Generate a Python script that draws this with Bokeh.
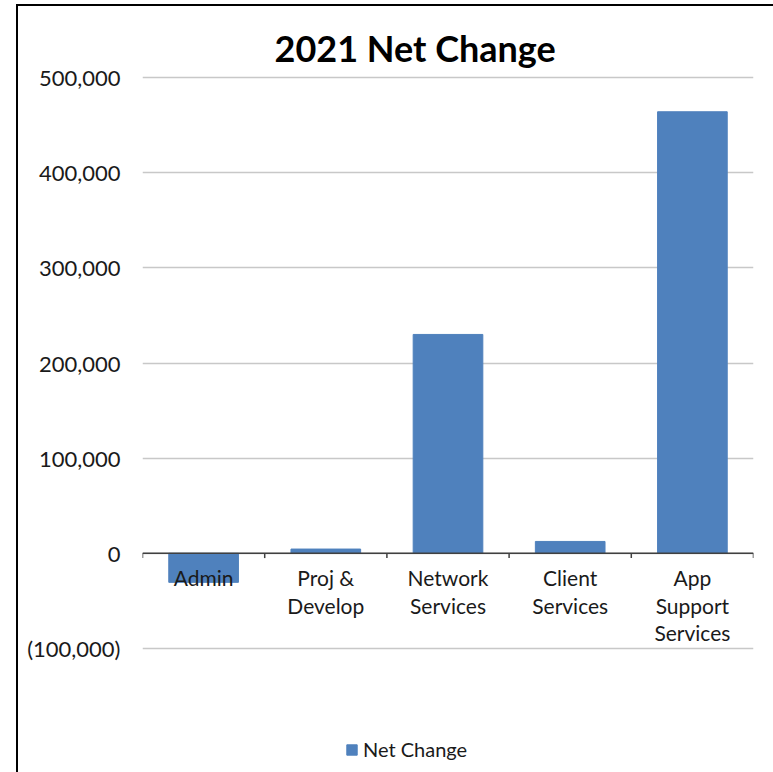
from bokeh.plotting import figure
from bokeh.models import Range1d, NumeralTickFormatter, Span, Legend, LegendItem, ColumnDataSource, FixedTicker
from bokeh.layouts import column
from bokeh.embed import file_html
from bokeh.resources import INLINE
from bokeh.core.properties import value

categories = ["Admin", "Proj &\nDevelop", "Network\nServices", "Client\nServices", "App\nSupport\nServices"]
net_change = [-30500, 4500, 230000, 12500, 464000]
y_ticks = [-100000, 0, 100000, 200000, 300000, 400000, 500000]

FONT = "Lato"
BLUE = "#4F81BD"

# layout: frame spans from just above the 500,000 line down to the figure bottom (legend lives inside)
Y_MAX, Y_MIN_TICK = 500000, -100000
PX_TOP_TO_MIN = 571.0   # pixels between 500,000 and -100,000
PX_BELOW = 124.0        # pixels below -100,000 to the figure bottom
PX_ABOVE = 3.0          # pixels above 500,000 inside the frame
px_per_unit = PX_TOP_TO_MIN / (Y_MAX - Y_MIN_TICK)
y_start = Y_MIN_TICK - PX_BELOW / px_per_unit
y_end = Y_MAX + PX_ABOVE / px_per_unit

xc = [i + 0.5 for i in range(len(categories))]
src = ColumnDataSource(dict(x=xc, top=net_change, label=categories))

p = figure(width=755, height=766, output_backend="svg", toolbar_location=None,
           x_range=Range1d(0, len(categories)), y_range=Range1d(y_start, y_end),
           min_border_left=124, min_border_right=20, min_border_top=68, min_border_bottom=0)
p.outline_line_color = None
p.background_fill_color = "white"
p.border_fill_color = "white"

p.title.text = "2021 Net Change"
p.title.text_font = FONT
p.title.text_font_size = "36px"
p.title.text_font_style = "bold"
p.title.align = "left"
p.title.vertical_align = "top"
p.title.offset = 132
p.title.standoff = 5
p.title.text_color = "black"

p.xaxis.visible = False
p.xgrid.visible = False
p.yaxis.ticker = FixedTicker(ticks=y_ticks)
p.yaxis.formatter = NumeralTickFormatter(format="(0,0)")
p.yaxis.axis_line_color = None
p.yaxis.major_tick_line_color = None
p.yaxis.minor_tick_line_color = None
p.yaxis.major_label_text_font = FONT
p.yaxis.major_label_text_font_size = "22px"
p.yaxis.major_label_text_color = "#1a1a1a"
p.yaxis.major_label_standoff = 16
p.ygrid.grid_line_color = "#c8c8c8"
p.ygrid.grid_line_width = 1.5

bars = p.vbar(x="x", top="top", bottom=0, width=0.57, source=src, fill_color=BLUE, line_color=BLUE)

# category axis drawn at zero
p.add_layout(Span(location=0, dimension="width", line_color="#404040", line_width=1.5))
bounds = list(range(len(categories) + 1))
p.segment(x0=bounds, x1=bounds, y0=[0] * len(bounds), y1=[-5000] * len(bounds), line_color="#404040", line_width=1.5)
p.text(x="x", y=0, text="label", source=src, text_align="center", text_baseline="top",
       y_offset=12, text_font=value(FONT), text_font_size="21px", text_color="#1a1a1a",
       text_line_height=1.1)

legend = Legend(items=[LegendItem(label="Net Change", renderers=[bars])], location=(203, 11),
                orientation="horizontal", label_text_font=FONT, label_text_font_size="20px",
                label_text_color="#1a1a1a", glyph_width=13, glyph_height=13, border_line_color=None,
                background_fill_alpha=0, margin=0, padding=0, label_standoff=5)
p.add_layout(legend, "center")

lay = column(p, styles={"border-left": "2px solid black", "border-top": "2px solid black"})
lay.margin = (4, 0, 0, 16)
open("out.html", "w").write(file_html(lay, INLINE))
